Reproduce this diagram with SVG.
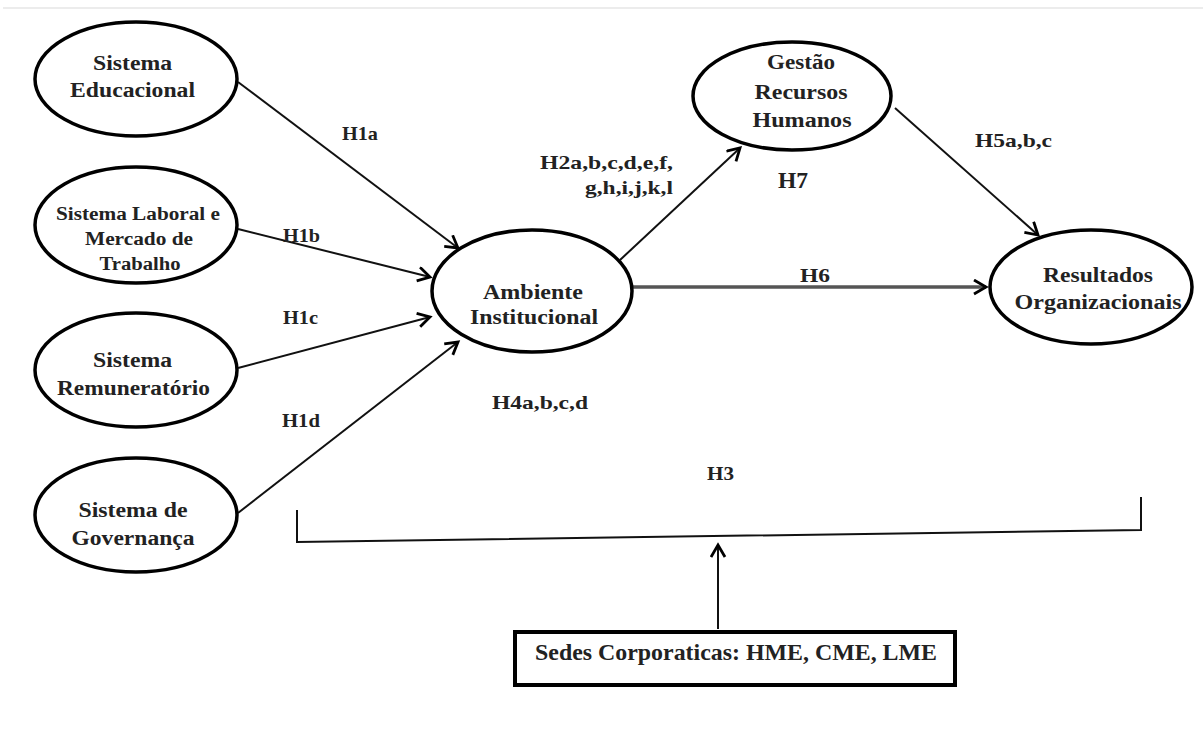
<svg xmlns="http://www.w3.org/2000/svg" width="1203" height="729" viewBox="0 0 1203 729">
<style>
.bg{fill:#ffffff}
.node ellipse{fill:#ffffff;stroke:#000;stroke-width:3.5}
.t{font-family:"Liberation Serif","Times New Roman",serif;font-weight:bold;fill:#222;text-anchor:middle}
.n{font-size:20px}
.s{font-size:18px}
.lbl{font-family:"Liberation Serif","Times New Roman",serif;font-weight:bold;fill:#222;font-size:19px}
.c{fill:none;stroke:#111;stroke-width:2}
</style>
<defs>
<marker id="arr" markerUnits="userSpaceOnUse" markerWidth="18" markerHeight="18" refX="14" refY="8" orient="auto">
<path d="M2,1 L14,8 L2,15" fill="none" stroke="#000" stroke-width="2.8" stroke-linejoin="miter"/>
</marker>
</defs>
<rect class="bg" x="0" y="0" width="1203" height="729"/>
<line x1="3" y1="8" x2="1203" y2="8" stroke="#ececec" stroke-width="2"/>

<g id="connectors">
<line class="c" x1="238" y1="82" x2="458" y2="248" marker-end="url(#arr)"/>
<line class="c" x1="238" y1="229" x2="430" y2="277" marker-end="url(#arr)"/>
<line class="c" x1="238" y1="368" x2="430" y2="317" marker-end="url(#arr)"/>
<line class="c" x1="238" y1="513" x2="458" y2="342" marker-end="url(#arr)"/>
<line class="c" x1="620" y1="260" x2="740" y2="148" marker-end="url(#arr)"/>
<line x1="633" y1="287" x2="986" y2="287" stroke="#555" stroke-width="3.5" marker-end="url(#arr)"/>
<line class="c" x1="895" y1="108" x2="1038" y2="235" marker-end="url(#arr)"/>
<line class="c" x1="718" y1="629" x2="718" y2="545" marker-end="url(#arr)"/>
<polyline class="c" points="297,510 297,542 1141,530 1141,497"/>
<text class="lbl" x="342" y="140" textLength="36" lengthAdjust="spacingAndGlyphs">H1a</text>
<text class="lbl" x="283" y="242" textLength="37" lengthAdjust="spacingAndGlyphs">H1b</text>
<text class="lbl" x="283" y="324" textLength="35" lengthAdjust="spacingAndGlyphs">H1c</text>
<text class="lbl" x="282" y="427" textLength="38" lengthAdjust="spacingAndGlyphs">H1d</text>
<text class="lbl" x="540" y="169" textLength="133" lengthAdjust="spacingAndGlyphs">H2a,b,c,d,e,f,</text>
<text class="lbl" x="585" y="194" textLength="88" lengthAdjust="spacingAndGlyphs">g,h,i,j,k,l</text>
<text class="lbl" x="778" y="188" style="font-size:24px" textLength="30" lengthAdjust="spacingAndGlyphs">H7</text>
<text class="lbl" x="975" y="147" textLength="77" lengthAdjust="spacingAndGlyphs">H5a,b,c</text>
<text class="lbl" x="800" y="282" textLength="30" lengthAdjust="spacingAndGlyphs">H6</text>
<text class="lbl" x="492" y="409" textLength="96" lengthAdjust="spacingAndGlyphs">H4a,b,c,d</text>
<text class="lbl" x="707" y="480" textLength="27" lengthAdjust="spacingAndGlyphs">H3</text>
</g>

<g id="n-educacional" class="node">
<ellipse cx="136" cy="79" rx="101" ry="57"/>
<text class="t n" x="132.5" y="70" textLength="79" lengthAdjust="spacingAndGlyphs">Sistema</text>
<text class="t n" x="132.5" y="97" textLength="125" lengthAdjust="spacingAndGlyphs">Educacional</text>
</g>
<g id="n-laboral" class="node">
<ellipse cx="136" cy="225" rx="101" ry="58"/>
<text class="t s" x="138" y="220" textLength="164" lengthAdjust="spacingAndGlyphs">Sistema Laboral e</text>
<text class="t s" x="139" y="245" textLength="108" lengthAdjust="spacingAndGlyphs">Mercado de</text>
<text class="t s" x="140" y="270" textLength="81" lengthAdjust="spacingAndGlyphs">Trabalho</text>
</g>
<g id="n-remuneratorio" class="node">
<ellipse cx="136" cy="370" rx="101" ry="57"/>
<text class="t n" x="132.5" y="367" textLength="79" lengthAdjust="spacingAndGlyphs">Sistema</text>
<text class="t n" x="133.5" y="395" textLength="153" lengthAdjust="spacingAndGlyphs">Remuneratório</text>
</g>
<g id="n-governanca" class="node">
<ellipse cx="136" cy="515" rx="101" ry="57"/>
<text class="t n" x="133" y="517" textLength="109" lengthAdjust="spacingAndGlyphs">Sistema de</text>
<text class="t n" x="133" y="545" textLength="123" lengthAdjust="spacingAndGlyphs">Governança</text>
</g>
<g id="n-ambiente" class="node">
<ellipse cx="532" cy="291" rx="100" ry="61"/>
<text class="t n" x="533" y="299" textLength="100" lengthAdjust="spacingAndGlyphs">Ambiente</text>
<text class="t n" x="534" y="324" textLength="128" lengthAdjust="spacingAndGlyphs">Institucional</text>
</g>
<g id="n-gestao" class="node">
<ellipse cx="792" cy="96" rx="99" ry="54"/>
<text class="t n" x="801" y="69" textLength="68" lengthAdjust="spacingAndGlyphs">Gestão</text>
<text class="t n" x="801" y="99" textLength="93" lengthAdjust="spacingAndGlyphs">Recursos</text>
<text class="t n" x="802" y="127" textLength="99" lengthAdjust="spacingAndGlyphs">Humanos</text>
</g>
<g id="n-resultados" class="node">
<ellipse cx="1091" cy="287" rx="101" ry="57"/>
<text class="t n" x="1098" y="282" textLength="110" lengthAdjust="spacingAndGlyphs">Resultados</text>
<text class="t n" x="1098" y="309" textLength="167" lengthAdjust="spacingAndGlyphs">Organizacionais</text>
</g>
<g id="n-sedes">
<rect x="515" y="632" width="440" height="53" fill="#fff" stroke="#000" stroke-width="4"/>
<text class="t" x="535" y="660" style="font-size:23px;text-anchor:start" textLength="402" lengthAdjust="spacingAndGlyphs">Sedes Corporaticas: HME, CME, LME</text>
</g>
</svg>
